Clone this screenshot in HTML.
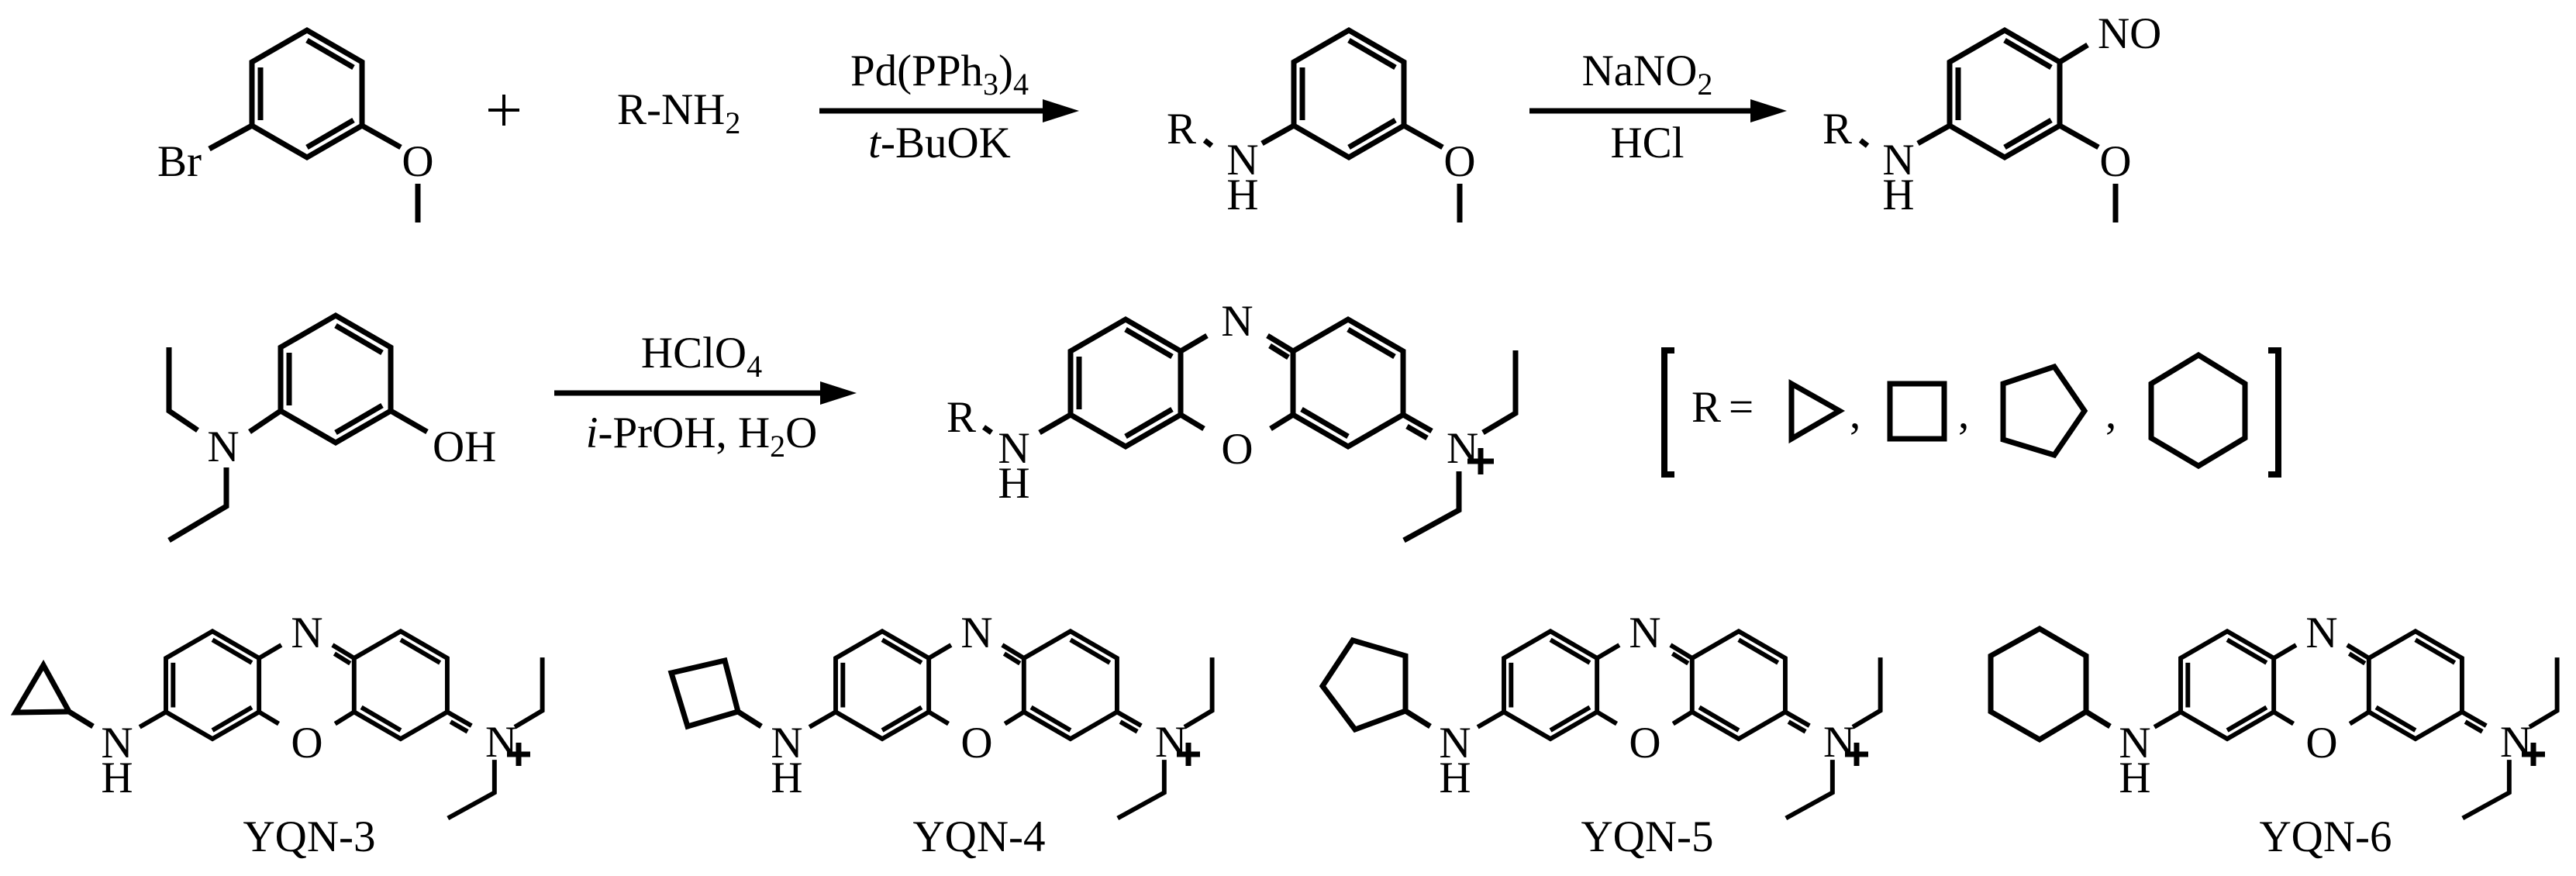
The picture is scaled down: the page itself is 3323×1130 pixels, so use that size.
<!DOCTYPE html>
<html><head><meta charset="utf-8"><style>
html,body{margin:0;padding:0;background:#fff;}
svg{display:block;}
text{font-family:"Liberation Serif",serif;font-size:57px;fill:#000;}
</style></head><body>
<svg width="3323" height="1130" viewBox="0 0 3323 1130" xmlns="http://www.w3.org/2000/svg">
<defs>
<g id="ar" fill="none" stroke="#000" stroke-width="7">
<path d="M0,0 L71,-41 L142,0 L142,82 L71,123 L0,82 Z"/>
<path d="M71,-28 L131,7 M11,7 L11,75 M71,110 L131,75"/>
</g>
<g id="core" fill="none" stroke="#000" stroke-width="7">
<path d="M0,0 L71,-41 L142,0 L142,82 L71,123 L0,82 Z"/>
<path d="M287,0 L358,-41 L429,0 L429,82 L358,123 L287,82 Z"/>
<path d="M71,-28 L131,7 M11,7 L11,75 M71,110 L131,75 M358,-28 L418,7 M298,75 L358,110"/>
<path d="M142,0 L176,-20 M254,-20 L287,0 M257,-7 L281,8"/>
<path d="M142,82 L172,100 M258,100 L287,82"/>
<path d="M429,82 L466,103 M434,97 L460,112"/>
<path d="M532,105 L574,80 L574,-1 M501,155 L501,205 L430,244"/>
<path d="M0,82 L-40,105"/>
</g>
</defs>

<!-- Row 1 -->
<use href="#ar" transform="translate(325,80)"/>
<g fill="none" stroke="#000" stroke-width="7">
<path d="M325,162 L270,192 M467,162 L517,190 M539,237 L539,287"/>
</g>
<path d="M650,122 V162 M630,142 H670" stroke="#000" stroke-width="4" fill="none"/>
<text x="203" y="227">Br</text>
<text x="539" y="227" text-anchor="middle">O</text>
<text x="796" y="160">R-NH<tspan font-size="40" dy="12">2</tspan></text>

<!-- arrow 1 -->
<line x1="1057" y1="143" x2="1350" y2="143" stroke="#000" stroke-width="7"/>
<polygon points="1345,128 1392,143 1345,158" fill="#000"/>
<text x="1212" y="110" text-anchor="middle">Pd(PPh<tspan font-size="40" dy="12">3</tspan><tspan dy="-12">)</tspan><tspan font-size="40" dy="12">4</tspan></text>
<text x="1212" y="203" text-anchor="middle"><tspan font-style="italic">t</tspan>-BuOK</text>

<!-- mol2 -->
<use href="#ar" transform="translate(1669,80)"/>
<g fill="none" stroke="#000" stroke-width="7">
<path d="M1669,162 L1628,185 M1811,162 L1861,190 M1883,237 L1883,287 M1554,181 L1563,188"/>
</g>
<text x="1505" y="185">R</text>
<text x="1603" y="225" text-anchor="middle">N</text>
<text x="1603" y="270" text-anchor="middle">H</text>
<text x="1883" y="227" text-anchor="middle">O</text>

<!-- arrow 2 -->
<line x1="1973" y1="143" x2="2260" y2="143" stroke="#000" stroke-width="7"/>
<polygon points="2258,128 2305,143 2258,158" fill="#000"/>
<text x="2125" y="110" text-anchor="middle">NaNO<tspan font-size="40" dy="12">2</tspan></text>
<text x="2125" y="203" text-anchor="middle">HCl</text>

<!-- mol3 -->
<use href="#ar" transform="translate(2515,80)"/>
<g fill="none" stroke="#000" stroke-width="7">
<path d="M2515,162 L2474,185 M2657,162 L2707,190 M2729,237 L2729,287 M2400,181 L2409,188 M2657,80 L2693,58"/>
</g>
<text x="2351" y="185">R</text>
<text x="2449" y="225" text-anchor="middle">N</text>
<text x="2449" y="270" text-anchor="middle">H</text>
<text x="2729" y="227" text-anchor="middle">O</text>
<text x="2706" y="62">NO</text>

<!-- Row 2 -->
<use href="#ar" transform="translate(362,448)"/>
<g fill="none" stroke="#000" stroke-width="7">
<path d="M362,530 L322,557 M504,530 L551,557"/>
<path d="M255,555 L218,530 L218,448 M292,603 L292,653 L218,697"/>
</g>
<text x="288" y="595" text-anchor="middle">N</text>
<text x="558" y="595">OH</text>

<line x1="715" y1="507" x2="1060" y2="507" stroke="#000" stroke-width="7"/>
<polygon points="1058,492 1105,507 1058,522" fill="#000"/>
<text x="905" y="474" text-anchor="middle">HClO<tspan font-size="40" dy="12">4</tspan></text>
<text x="905" y="577" text-anchor="middle"><tspan font-style="italic">i</tspan>-PrOH, H<tspan font-size="40" dy="12">2</tspan><tspan dy="-12">O</tspan></text>

<use href="#core" transform="translate(1381,453)"/>
<g fill="none" stroke="#000" stroke-width="7">
<path d="M1269,551 L1279,558"/>
<path d="M1910,578 V612 M1893,595 H1927"/>
</g>
<text x="1221" y="557">R</text>
<text x="1308" y="597" text-anchor="middle">N</text>
<text x="1308" y="642" text-anchor="middle">H</text>
<text x="1596" y="433" text-anchor="middle">N</text>
<text x="1596" y="598" text-anchor="middle">O</text>
<text x="1866" y="597">N</text>

<!-- bracket -->
<g fill="none" stroke="#000" stroke-width="7">
<path d="M2160,452 H2147 V612 H2160" stroke-width="8"/>
<path d="M2926,452 H2939 V612 H2926" stroke-width="8"/>
<path d="M2311,495 L2373,530 L2311,566 Z"/>
<path d="M2438,495 H2508 V566 H2438 Z"/>
<path d="M2584,495 L2650,473 L2689,530 L2650,587 L2584,567 Z"/>
<path d="M2836,458 L2896,495 L2896,565 L2836,601 L2775,565 L2775,495 Z"/>
</g>
<text x="2182" y="544">R</text>
<text x="2230" y="544">=</text>
<text x="2386" y="552">,</text>
<text x="2526" y="552">,</text>
<text x="2716" y="552">,</text>

<!-- Row 3 -->
<use href="#core" transform="translate(214,849) scale(0.846)"/>
<use href="#core" transform="translate(1078,849) scale(0.846)"/>
<use href="#core" transform="translate(1940,849) scale(0.846)"/>
<use href="#core" transform="translate(2813,849) scale(0.846)"/>

<g fill="none" stroke="#000" stroke-width="7">
<path d="M56,858 L89,918 L20,919 Z M89,918 L120,937"/>
<path d="M866,868 L935,852 L952,918 L887,937 Z M952,918 L982,937"/>
<path d="M1745,826 L1813,846 L1813,917 L1748,941 L1706,885 Z M1813,917 L1845,937"/>
<path d="M2631,811 L2691,846 L2691,918 L2631,954 L2568,918 L2568,846 Z M2691,918 L2722,937"/>
<path d="M669,958 V988 M654,973 H684"/>
<path d="M1533,958 V988 M1518,973 H1548"/>
<path d="M2395,958 V988 M2380,973 H2410"/>
<path d="M3268,958 V988 M3253,973 H3283"/>
</g>

<text x="151" y="977" text-anchor="middle">N</text>
<text x="151" y="1022" text-anchor="middle">H</text>
<text x="396" y="835" text-anchor="middle">N</text>
<text x="396" y="977" text-anchor="middle">O</text>
<text x="626" y="976">N</text>
<text x="399" y="1098" text-anchor="middle">YQN-3</text>

<text x="1015" y="977" text-anchor="middle">N</text>
<text x="1015" y="1022" text-anchor="middle">H</text>
<text x="1260" y="835" text-anchor="middle">N</text>
<text x="1260" y="977" text-anchor="middle">O</text>
<text x="1490" y="976">N</text>
<text x="1263" y="1098" text-anchor="middle">YQN-4</text>

<text x="1877" y="977" text-anchor="middle">N</text>
<text x="1877" y="1022" text-anchor="middle">H</text>
<text x="2122" y="835" text-anchor="middle">N</text>
<text x="2122" y="977" text-anchor="middle">O</text>
<text x="2352" y="976">N</text>
<text x="2125" y="1098" text-anchor="middle">YQN-5</text>

<text x="2754" y="977" text-anchor="middle">N</text>
<text x="2754" y="1022" text-anchor="middle">H</text>
<text x="2995" y="835" text-anchor="middle">N</text>
<text x="2995" y="977" text-anchor="middle">O</text>
<text x="3225" y="976">N</text>
<text x="3000" y="1098" text-anchor="middle">YQN-6</text>
</svg>
</body></html>
